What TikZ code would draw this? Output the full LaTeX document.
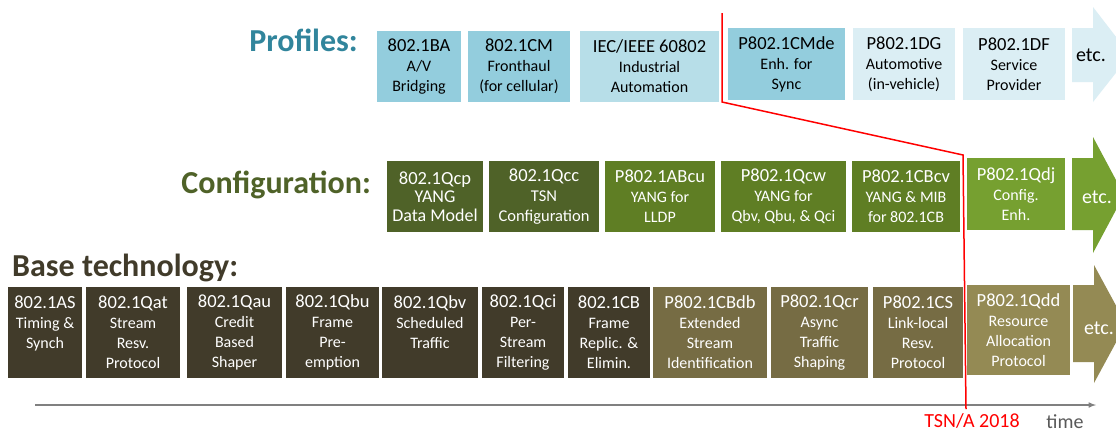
\documentclass[tikz,border=0pt]{standalone}
\usepackage{fontspec}
\setmainfont{Carlito}
\usetikzlibrary{arrows}
\definecolor{proftitle}{HTML}{31859C}
\definecolor{profmid}{HTML}{93CDDD}
\definecolor{proflight}{HTML}{B7DEE8}
\definecolor{profpale}{HTML}{DBEEF4}
\definecolor{confdark}{HTML}{4F6228}
\definecolor{confmid}{HTML}{5F7E24}
\definecolor{conflight}{HTML}{76A030}
\definecolor{basedark}{HTML}{413B2A}
\definecolor{basemid}{HTML}{766C44}
\definecolor{baselight}{HTML}{948A54}
\definecolor{axisgray}{HTML}{808080}
\definecolor{timegray}{HTML}{595959}
\newcommand{\stdno}[1]{{\fontsize{18.5}{20}\selectfont #1}}
\tikzset{
  tsnbox/.style={rectangle, inner sep=0pt, align=center, font=\fontsize{16}{20}\selectfont},
  profbox/.style={tsnbox, minimum height=71pt, text=black},
  confbox/.style={tsnbox, minimum height=71pt, text=white},
  basebox/.style={tsnbox, minimum height=91pt, text=white},
  grouptitle/.style={font=\fontsize{32}{36}\selectfont\bfseries, inner sep=0pt},
  etctext/.style={font=\fontsize{20}{24}\selectfont, inner sep=0pt},
  tsnline/.style={red, line width=1.5pt},
  timeaxis/.style={axisgray, line width=1.5pt, ->, >=latex},
}

\begin{document}
\begin{tikzpicture}[x=1pt,y=-1pt]
  \useasboundingbox (0,0) rectangle (1116,432);
  \fill[white] (0,0) rectangle (1116,432);
  % profiles
  \node[grouptitle, text=proftitle, anchor=base east] (proflabel) at (358,51) {Profiles:};
  \node[profbox, fill=profmid, minimum width=84pt] (ba) at (419,66.5) {\stdno{802.1BA}\\A/V\\Bridging};
  \node[profbox, fill=profmid, minimum width=102pt] (cm) at (519,66.5) {\stdno{802.1CM}\\Fronthaul\\(for cellular)};
  \node[profbox, fill=proflight, minimum width=139pt] (iec) at (649.5,66.5) {\stdno{IEC/IEEE 60802}\\Industrial\\Automation};
  \node[profbox, fill=profmid, minimum width=117pt, minimum height=72pt] (cmde) at (786.5,64) {\stdno{P802.1CMde}\\Enh. for\\Sync};
  \node[profbox, fill=profpale, minimum width=102pt, minimum height=72pt] (dg) at (904,64) {\stdno{P802.1DG}\\Automotive\\(in-vehicle)};
  \node[profbox, fill=profpale, minimum width=102pt, minimum height=72pt] (df) at (1014,64) {\stdno{P802.1DF}\\Service\\Provider};
  \fill[profpale] (1072,28) -- (1093,28) -- (1093,7) -- (1130,55) -- (1093,102) -- (1093,82) -- (1072,82) -- cycle;
  \node[etctext, text=black] (etcprof) at (1091,55) {etc.};
  % configuration
  \node[grouptitle, text=confdark, anchor=base east] (conflabel) at (371,193) {Configuration:};
  \node[confbox, fill=confdark, minimum width=96pt, font=\fontsize{18}{18.5}\selectfont] (qcp) at (435,196.5) {\stdno{802.1Qcp}\\YANG\\Data Model};
  \node[confbox, fill=confdark, minimum width=110pt, font=\fontsize{16.5}{20}\selectfont] (qcc) at (544,196.5) {\stdno{802.1Qcc}\\TSN\\Configuration};
  \node[confbox, fill=confmid, minimum width=110pt] (abcu) at (660,196.5) {\stdno{P802.1ABcu}\\YANG for\\LLDP};
  \node[confbox, fill=confmid, minimum width=125pt] (qcw) at (783.5,196.5) {\stdno{P802.1Qcw}\\YANG for\\Qbv, Qbu, \& Qci};
  \node[confbox, fill=confmid, minimum width=108pt] (cbcv) at (906,196.5) {\stdno{P802.1CBcv}\\YANG \& MIB\\for 802.1CB};
  \node[confbox, fill=conflight, minimum width=98pt, minimum height=72pt] (qdj) at (1016,194) {\stdno{P802.1Qdj}\\Config.\\Enh.};
  \fill[conflight] (1072,158) -- (1093,158) -- (1093,137) -- (1124,195) -- (1093,253) -- (1093,230) -- (1072,230) -- cycle;
  \node[etctext, text=white] (etcconf) at (1097,197) {etc.};
  % base technology
  \node[grouptitle, text=basedark, anchor=base west] (baselabel) at (12,276) {Base technology:};
  \node[basebox, fill=basedark, minimum width=74pt] (as) at (45,332.5) {\stdno{802.1AS}\\Timing \&\\Synch\\\mbox{}};
  \node[basebox, fill=basedark, minimum width=94pt] (qat) at (133,332.5) {\stdno{802.1Qat}\\Stream\\Resv.\\Protocol};
  \node[basebox, fill=basedark, minimum width=95pt] (qau) at (234.5,332.5) {\stdno{802.1Qau}\\Credit\\Based\\Shaper};
  \node[basebox, fill=basedark, minimum width=93pt] (qbu) at (332.5,332.5) {\stdno{802.1Qbu}\\Frame\\Pre-\\emption};
  \node[basebox, fill=basedark, minimum width=96pt] (qbv) at (430,332.5) {\stdno{802.1Qbv}\\Scheduled\\Traffic\\\mbox{}};
  \node[basebox, fill=basedark, minimum width=82pt] (qci) at (523,332.5) {\stdno{802.1Qci}\\Per-\\Stream\\Filtering};
  \node[basebox, fill=basedark, minimum width=82pt] (cb) at (609,332.5) {\stdno{802.1CB}\\Frame\\Replic. \&\\Elimin.};
  \node[basebox, fill=basemid, minimum width=114pt] (cbdb) at (710,332.5) {\stdno{P802.1CBdb}\\Extended\\Stream\\Identification};
  \node[basebox, fill=basemid, minimum width=97pt] (qcr) at (819.5,332.5) {\stdno{P802.1Qcr}\\Async\\Traffic\\Shaping};
  \node[basebox, fill=basemid, minimum width=90pt] (cs) at (918,332.5) {\stdno{P802.1CS}\\Link-local\\Resv.\\Protocol};
  \node[basebox, fill=baselight, minimum width=103pt, minimum height=90pt] (qdd) at (1018.5,330) {\stdno{P802.1Qdd}\\Resource\\Allocation\\Protocol};
  \fill[baselight] (1073,285) -- (1094,285) -- (1094,265) -- (1126,324) -- (1094,383) -- (1094,362) -- (1073,362) -- cycle;
  \node[etctext, text=white] (etcbase) at (1099,328) {etc.};
  % time line
  \coordinate (axstart) at (35,405);
  \coordinate (axend) at (1096,405);
  \draw[timeaxis] (axstart) -- (axend);
  \node[etctext, text=timegray, anchor=base] (timelabel) at (1065,428) {time};
  % TSN/A 2018 cut
  \coordinate (tsna) at (722,13);
  \coordinate (tsnb) at (722,102);
  \coordinate (tsnc) at (963,155);
  \coordinate (tsnd) at (966,409);
  \draw[tsnline] (tsna) -- (tsnb) -- (tsnc) -- (tsnd);
  \node[etctext, text=red, anchor=base] (tsnyear) at (972,427) {TSN/A 2018};
\end{tikzpicture}
\end{document}
